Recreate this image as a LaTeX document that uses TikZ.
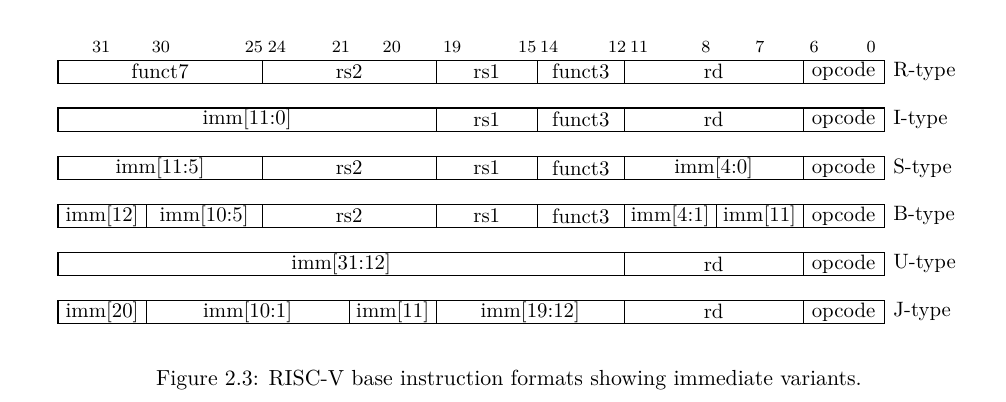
\documentclass[tikz,border=0pt]{standalone}
\usetikzlibrary{positioning}

\tikzset{
    field/.style={draw, line width=0.5pt, inner sep=0pt, minimum height=0.39cm, anchor=center},
    bitno/.style={font=\fontsize{8.2}{10}\selectfont},
    kind/.style={anchor=west, inner sep=0pt},
}

\begin{document}
\begin{tikzpicture}

\useasboundingbox (0,0) rectangle (17.00,6.79);

% ============================================================ bit positions
\foreach \x/\b [count=\i] in {1.71/31, 2.72/30, 4.29/25, 4.68/24, 5.76/21, 6.62/20, 7.64/19, 8.91/15,
        9.28/14, 10.43/12, 10.80/11, 11.93/8, 12.84/7, 13.76/6, 14.72/0}{
    \node[bitno] (bit\i) at (\x, 6.00) {\b};
}

% ============================================================ R-type
\foreach \a/\b/\t [count=\i] in {0.98/4.43/funct7, 4.43/7.37/rs2, 7.37/9.08/rs1,
        9.08/10.55/funct3, 10.55/13.57/rd, 13.57/14.94/opcode}{
    \node[field, minimum width={(\b-\a)*1cm}] (r\i) at ({(\a+\b)/2}, 5.58) {\t};
}
\node[kind] (rtype) at (15.09, 5.58) {R-type};

% ============================================================ I-type
\foreach \a/\b/\t [count=\i] in {0.98/7.37/imm[11:0], 7.37/9.08/rs1,
        9.08/10.55/funct3, 10.55/13.57/rd, 13.57/14.94/opcode}{
    \node[field, minimum width={(\b-\a)*1cm}] (i\i) at ({(\a+\b)/2}, 4.77) {\t};
}
\node[kind] (itype) at (15.09, 4.77) {I-type};

% ============================================================ S-type
\foreach \a/\b/\t [count=\i] in {0.98/4.43/imm[11:5], 4.43/7.37/rs2, 7.37/9.08/rs1,
        9.08/10.55/funct3, 10.55/13.57/imm[4:0], 13.57/14.94/opcode}{
    \node[field, minimum width={(\b-\a)*1cm}] (s\i) at ({(\a+\b)/2}, 3.95) {\t};
}
\node[kind] (stype) at (15.09, 3.95) {S-type};

% ============================================================ B-type
\foreach \a/\b/\t [count=\i] in {0.98/2.47/imm[12], 2.47/4.43/imm[10:5], 4.43/7.37/rs2,
        7.37/9.08/rs1, 9.08/10.55/funct3, 10.55/12.10/imm[4:1], 12.10/13.57/imm[11],
        13.57/14.94/opcode}{
    \node[field, minimum width={(\b-\a)*1cm}] (b\i) at ({(\a+\b)/2}, 3.14) {\t};
}
\node[kind] (btype) at (15.09, 3.14) {B-type};

% ============================================================ U-type
\foreach \a/\b/\t [count=\i] in {0.98/10.55/imm[31:12], 10.55/13.57/rd, 13.57/14.94/opcode}{
    \node[field, minimum width={(\b-\a)*1cm}] (u\i) at ({(\a+\b)/2}, 2.33) {\t};
}
\node[kind] (utype) at (15.09, 2.33) {U-type};

% ============================================================ J-type
\foreach \a/\b/\t [count=\i] in {0.98/2.47/imm[20], 2.47/5.90/imm[10:1], 5.90/7.37/imm[11],
        7.37/10.55/imm[19:12], 10.55/13.57/rd, 13.57/14.94/opcode}{
    \node[field, minimum width={(\b-\a)*1cm}] (j\i) at ({(\a+\b)/2}, 1.52) {\t};
}
\node[kind] (jtype) at (15.09, 1.52) {J-type};

% ============================================================ caption
\node[font=\fontsize{10.5}{12.6}\selectfont] (caption) at (8.60, 0.37)
    {Figure 2.3: RISC-V base instruction formats showing immediate variants.};

\end{tikzpicture}
\end{document}
